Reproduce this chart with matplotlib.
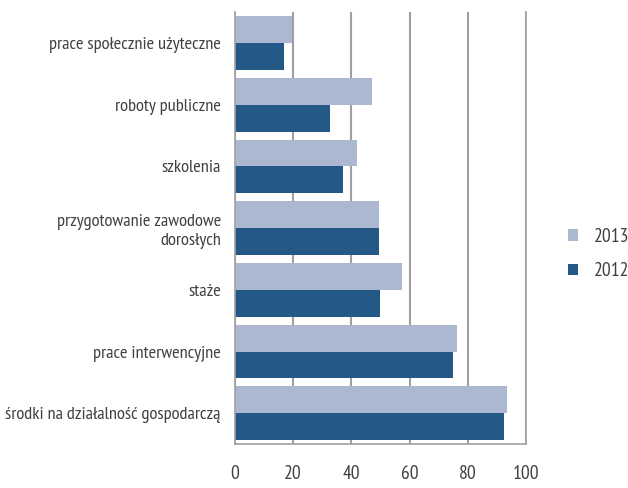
import matplotlib
matplotlib.use("Agg")
import matplotlib.pyplot as plt
import numpy as np

plt.rcParams["font.family"] = ["PT Sans Narrow", "DejaVu Sans"]

categories = [
    "prace społecznie użyteczne",
    "roboty publiczne",
    "szkolenia",
    "przygotowanie zawodowe\ndorosłych",
    "staże",
    "prace interwencyjne",
    "środki na działalność gospodarczą",
]
values_2013 = [19.7, 46.9, 41.8, 49.6, 57.2, 76.4, 93.5]
values_2012 = [17.0, 32.5, 37.0, 49.6, 49.9, 74.7, 92.5]

c2013 = "#ABB8D0"
c2012 = "#245886"
text_c = "#404040"
grid_c = "#A0A0A0"

fig = plt.figure(figsize=(6.28, 4.88), dpi=100)
ax = fig.add_axes([0.374, 0.090, 0.464, 0.885])

y = np.arange(len(categories))
h = 0.435
ax.barh(y - h / 2, values_2013, height=h, color=c2013, label="2013", zorder=2)
ax.barh(y + h / 2, values_2012, height=h, color=c2012, label="2012", zorder=2)

ax.set_ylim(len(categories) - 0.5, -0.5)
ax.set_xlim(0, 100)
ax.set_xticks([0, 20, 40, 60, 80, 100])
ax.set_yticks(y)
ax.set_yticklabels(categories, fontsize=13.2, color=text_c)
for lbl in ax.get_yticklabels():
    lbl.set_multialignment("right")
ax.tick_params(axis="x", labelsize=14, colors=text_c, length=0, pad=15)
ax.tick_params(axis="y", length=0, pad=10)

ax.grid(axis="x", color=grid_c, linewidth=1.5, zorder=1)
ax.set_axisbelow(True)
for s in ["left", "bottom", "right"]:
    ax.spines[s].set_color(grid_c)
    ax.spines[s].set_linewidth(1.2)
ax.spines["top"].set_visible(False)

handles, labels = ax.get_legend_handles_labels()
leg = ax.legend(handles, labels, loc="center left",
                bbox_to_anchor=(1.115, 0.44), frameon=False, fontsize=14,
                handlelength=0.55, handleheight=0.55, labelspacing=0.85,
                handletextpad=0.8, borderaxespad=0)
for t in leg.get_texts():
    t.set_color(text_c)

fig.savefig("out.png", dpi=100, facecolor="white")
